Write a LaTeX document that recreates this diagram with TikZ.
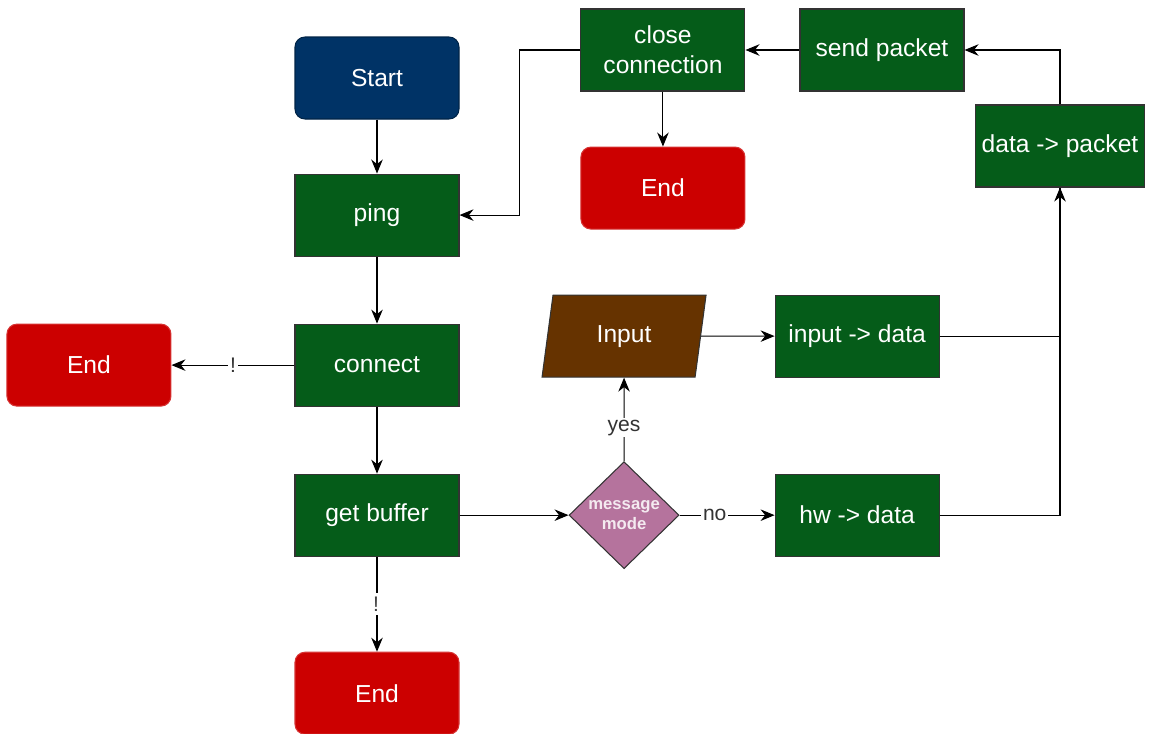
\documentclass[tikz,border=0pt]{standalone}
\usepackage{fontspec}
\setmainfont{Liberation Sans}
\usetikzlibrary{arrows.meta,shapes.geometric,positioning}

\definecolor{boxgreen}{RGB}{5,92,25}
\definecolor{startblue}{RGB}{0,51,102}
\definecolor{endred}{RGB}{204,0,0}
\definecolor{inbrown}{RGB}{102,51,0}
\definecolor{modepink}{RGB}{181,115,157}
\definecolor{labelgray}{RGB}{51,51,51}

\tikzset{
  stepbox/.style={draw=black!80, fill=boxgreen, text=white, minimum width=3.28cm, minimum height=1.64cm,
    align=center, font=\fontsize{14}{17}\selectfont, line width=0.6pt},
  startbox/.style={stepbox, draw=startblue!70!black, fill=startblue, rounded corners=0.2cm},
  endbox/.style={stepbox, draw=endred!80!white, fill=endred, rounded corners=0.2cm},
  inputbox/.style={trapezium, trapezium left angle=72, trapezium right angle=108, draw=black!80, fill=inbrown,
    text=white, minimum width=3.28cm, minimum height=1.64cm, trapezium stretches body,
    font=\fontsize{14}{17}\selectfont, line width=0.6pt},
  choice/.style={diamond, draw=black!80, fill=modepink, text=white!85!modepink, minimum width=2.2cm,
    minimum height=2.14cm, inner sep=0pt, align=center, font=\fontsize{9.5}{11}\selectfont\bfseries, line width=0.6pt},
  edgelabel/.style={fill=white, text=labelgray, inner sep=1pt, font=\fontsize{12}{14}\selectfont},
  >={Stealth[length=2.8mm,width=2.3mm]}
}

\begin{document}
\begin{tikzpicture}[line width=0.6pt]
\useasboundingbox (0,0) rectangle (22.98,-14.66);

\node[startbox] (start) at (7.54,-1.56) {Start};
\node[stepbox, below=1.08cm of start] (ping) {ping};
\node[stepbox, below=1.34cm of ping] (connect) {connect};
\node[stepbox, below=1.34cm of connect] (getbuf) {get buffer};
\node[endbox, below=1.9cm of getbuf] (endbuf) {End};
\node[endbox, left=2.46cm of connect] (endconn) {End};

\node[choice, right=2.18cm of getbuf] (mode) {message\\mode};
\node[stepbox, right=1.9cm of mode] (hwdata) {hw -> data};
\node[stepbox, above=1.92cm of hwdata] (indata) {input -> data};
\node[inputbox] (input) at (mode |- indata) {Input};

\node[stepbox] (packet) at (21.2,-2.92) {data -> packet};
\node[stepbox] (send) at (17.64,-1.0) {send packet};
\node[stepbox, left=1.08cm of send] (close) {close\\connection};
\node[endbox, below=1.1cm of close] (endclose) {End};

\draw[->] (start) -- (ping);
\draw[->] (ping) -- (connect);
\draw[->] (connect) -- (getbuf);
\draw[->] (connect) -- node[edgelabel] {!} (endconn);
\draw[->] (getbuf) -- node[edgelabel, text=black!75, xshift=-0.6pt, inner xsep=3pt, inner ysep=2pt] {!} (endbuf);
\draw[->] (getbuf) -- (mode);
\draw[->] (mode) -- node[edgelabel, pos=0.4] {yes} (input);
\draw[->] (mode) -- node[edgelabel, pos=0.37] {no} (hwdata);
\draw[->] (input) -- (indata);
\draw (indata.east) -| (packet.south);
\draw[->] (hwdata.east) -| (packet.south);
\draw[->] (packet.north) |- (send.east);
\draw[->] (send) -- (close);
\draw[->] (close) -- (endclose);
\draw[->] (close.west) -- ++(-1.22,0) |- (ping.east);
\end{tikzpicture}
\end{document}
